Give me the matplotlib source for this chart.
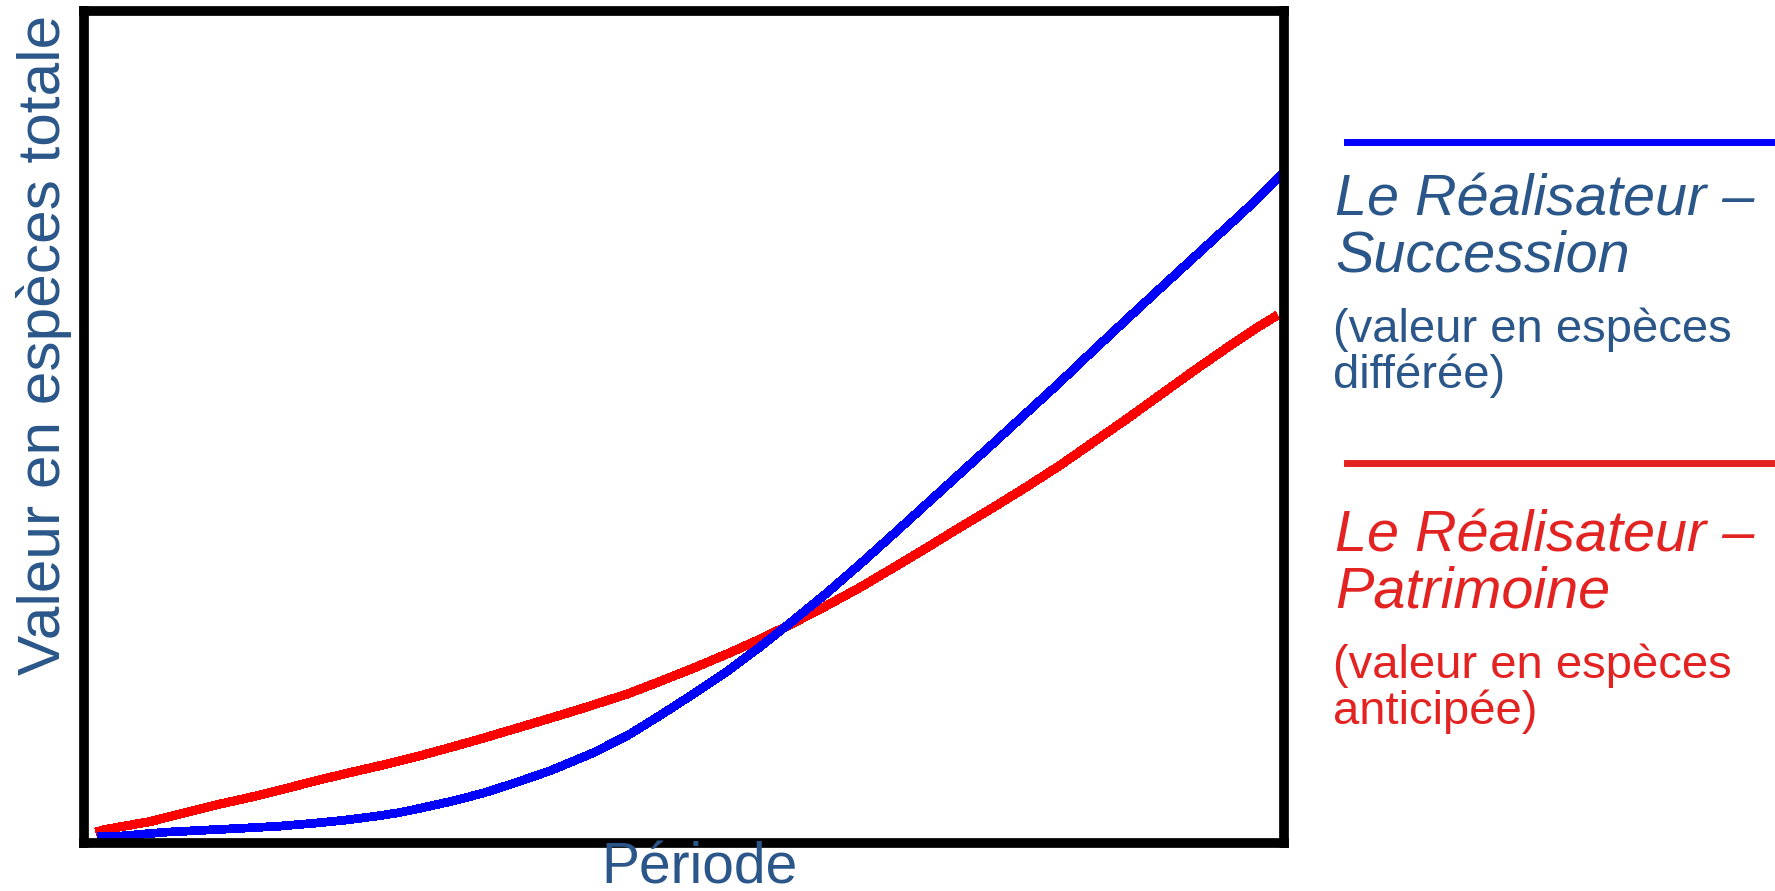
import matplotlib
matplotlib.use('Agg')
import matplotlib.pyplot as plt
from matplotlib.lines import Line2D

plt.rcParams['font.family'] = ['Liberation Sans', 'DejaVu Sans']

# curves (axis units 0-100, no ticks shown)
succ_x = [1.1, 2.8, 6.8, 12.2, 16.1, 19.4, 22.1, 24.2, 26.1, 27.8, 30.6, 33.3,
          36.1, 38.9, 41.4, 42.4, 45.3, 48.0, 50.8, 53.6, 56.4, 59.1, 61.9,
          64.7, 67.4, 70.3, 72.9, 75.8, 78.6, 81.4, 84.1, 87.0, 89.7, 92.5,
          95.3, 98.0, 100.1]
succ_y = [0.8, 0.8, 1.3, 1.7, 2.0, 2.4, 2.8, 3.2, 3.6, 4.1, 5.0, 6.0,
          7.3, 8.7, 10.2, 10.8, 12.9, 15.3, 17.9, 20.6, 23.6, 26.7, 30.0,
          33.5, 37.0, 40.8, 44.2, 48.0, 51.7, 55.4, 59.1, 63.0, 66.6, 70.3,
          74.0, 77.6, 80.7]
patr_x = [1.0, 1.7, 5.6, 8.3, 11.1, 13.9, 16.7, 19.4, 22.3, 25.0, 27.8, 30.6,
          33.3, 36.1, 38.9, 41.4, 45.3, 48.0, 50.8, 53.6, 56.4, 59.1, 61.9,
          64.7, 67.4, 70.3, 72.9, 75.8, 78.6, 81.4, 84.1, 87.0, 89.7, 92.5,
          95.3, 98.0, 99.5]
patr_y = [1.3, 1.6, 2.6, 3.6, 4.6, 5.5, 6.5, 7.5, 8.5, 9.4, 10.4, 11.5,
          12.6, 13.8, 15.0, 16.1, 17.9, 19.4, 21.0, 22.7, 24.5, 26.4, 28.5,
          30.7, 33.0, 35.5, 37.8, 40.3, 42.8, 45.4, 48.1, 51.0, 53.8, 56.7,
          59.5, 62.1, 63.4]

label_blue = ['Le Réalisateur –', 'Succession', '(valeur en espèces', 'différée)']
label_red = ['Le Réalisateur –', 'Patrimoine', '(valeur en espèces', 'anticipée)']
xlabel = 'Période'
ylabel = 'Valeur en espèces totale'

navy = '#2A5689'
red_txt = '#E32322'

W, H = 1775, 891
fig = plt.figure(figsize=(W / 100, H / 100), dpi=100)
ax = fig.add_axes([84 / W, 1 - 843 / H, (1283.5 - 84) / W, (843 - 10.5) / H])

ax.plot(patr_x, patr_y, color='#FF0000', lw=5.8, antialiased=False, clip_on=False,
        solid_capstyle='butt')
ax.plot(succ_x, succ_y, color='#0000FF', lw=5.6, antialiased=False, clip_on=False,
        solid_capstyle='butt')

ax.set_xlim(0, 100)
ax.set_ylim(0, 100)
ax.set_xticks([])
ax.set_yticks([])
for s in ax.spines.values():
    s.set_linewidth(7)
    s.set_color('black')


def px(x, y):
    return x / W, 1 - y / H


fig.text(*px(699, 884), xlabel, ha='center', va='baseline', fontsize=41, color=navy)
fig.text(*px(44, 345), ylabel, ha='center', va='center', rotation=90, fontsize=43.5,
         color=navy)

# legend block on the right
fig.add_artist(Line2D([1347 / W, 1.0], [1 - 142 / H] * 2, color='#0000FF', lw=5))
fig.add_artist(Line2D([1347 / W, 1.0], [1 - 463 / H] * 2, color=red_txt, lw=5))

for lines, col, base in [(label_blue, navy, 0), (label_red, red_txt, 336)]:
    fig.text(*px(1335, 215 + base), lines[0], fontsize=41.5, style='italic', color=col,
             va='baseline')
    fig.text(*px(1335, 271 + base), lines[1], fontsize=41.5, style='italic', color=col,
             va='baseline')
    fig.text(*px(1333, 342 + base), lines[2], fontsize=34, color=col, va='baseline')
    fig.text(*px(1333, 388 + base), lines[3], fontsize=34, color=col, va='baseline')

fig.savefig('out.png', dpi=100)
